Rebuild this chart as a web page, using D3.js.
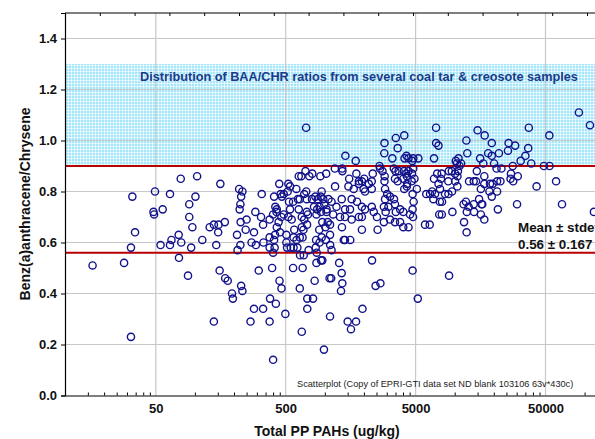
<!DOCTYPE html>
<html>
<head>
<meta charset="utf-8">
<script src="https://cdn.jsdelivr.net/npm/d3@7"></script>
<style>
  body { margin: 0; background: #fff; }
  text { font-family: "Liberation Sans", Arial, sans-serif; }
</style>
</head>
<body>
<svg id="chart"></svg>
<script>
// BaA/Chrysene ratio vs total PP PAHs (log x)

// Total PP PAHs (ug/kg)
const totalPAH = [
  // low concentrations
  16.3, 28.5, 32.2, 34.6, 32.2, 33, 48, 48.5, 49.3, 56.5,
  64.3, 54.4, 64.3, 66, 75, 78.5, 75.4, 77.8, 104, 101,
  90.5, 88.5, 90.5, 95.6, 93.6, 114, 130, 140, 152, 146,
  151, 170, 155, 171, 179, 140, 157,
  // 190 - 1100
  193, 196, 211, 213, 224, 227, 232, 221, 224, 225,
  250, 246, 292, 285, 295, 310, 285, 268, 335, 323,
  335, 376, 376, 400, 393, 379, 376, 420, 448, 464,
  400, 497, 414, 407, 427, 441, 506, 512, 570, 575,
  582, 642, 665, 463, 483, 524, 540, 219, 232, 227,
  327, 407, 446, 524, 630, 337, 273, 376, 411, 400,
  425, 452, 416, 427, 457, 467, 483, 540, 518, 530,
  556, 506, 575, 606, 642, 570, 630, 604, 621, 710,
  760, 801, 720, 726, 695, 642, 665, 694, 665, 685,
  674, 726, 741, 730, 797, 846, 882, 930, 946, 974,
  924, 1024, 826, 872, 912, 991, 1032, 862, 935, 957,
  1010, 1054, 906, 946, 912, 857, 852, 751, 645, 688,
  547, 615, 675, 835, 733, 812, 733, 985, 862, 935,
  957, 1088, 1097,
  // below the mean line and high end
  867, 1018, 1127, 1100, 1097, 1290, 1349, 1364, 1333, 1120,
  1500, 1740, 1590, 1950, 2310, 2460, 2680, 1400, 1430, 1570,
  1355, 1930, 2550, 4740, 5200, 9050, 5910, 6420, 7600, 7960,
  9600, 11800, 12350, 11700, 12800, 14100, 15900, 16900, 16300, 21500,
  30200, 67000, 118000,
  // inside the coal tar band
  718, 1440, 1730, 2880, 2870, 3520, 4090, 3640, 3310, 4110,
  4410, 4720, 5250, 4800, 4260, 7190, 7190, 7500, 6930, 2640,
  10200, 10700, 10400, 11200, 12300, 12500, 15000, 17000, 19300, 15700,
  16600, 18100, 19300, 21900, 20100, 26000, 29200, 25700, 37200, 36800,
  35000, 32200, 38800, 28000, 53500, 48600, 53700, 90400, 110000,
  // 1000 - 60000 main cloud
  660, 1195, 1360, 1365, 1540, 1750, 1930, 1830, 2010, 2180,
  2300, 2340, 2660, 2780, 2890, 3500, 3700, 4070, 4240, 4410,
  4690, 4800, 4020, 4300, 4670, 3640, 7330, 6930, 7830, 7500,
  9000, 9500, 10070, 10900, 10600, 10500, 8930, 10070, 10480, 12900,
  14000, 14600, 14800, 16900, 16900, 18700, 19600, 21200, 22500, 21000,
  22900, 15900, 18500, 21200, 27100, 26900, 28200, 30600, 42700, 60300,
  1200, 6040, 6460, 7680, 12200, 14000, 15400, 16100, 9540, 8950,
  8430, 19300, 12400, 2880, 3400, 3470, 4280, 4900, 4090, 4280,
  5110, 1520, 1670, 1830, 1990, 2040, 2300, 2910, 3020, 3180,
  3410, 3470, 2910, 2850, 3090, 2940, 3520, 3800, 4020, 4740,
  4830, 4740, 4530, 6700, 7060, 6850, 7710, 7930, 7990, 1066,
  1127, 1230, 1350, 1432, 1564, 1610, 1770, 1930, 2040, 2300,
  2380, 2520, 1830, 1030, 1160, 1310, 1430, 1097, 1610, 1930,
  2850, 3180, 3470, 3800, 4020, 4410, 4780
];

// Benz(a)anthracene / Chrysene ratio, same order as totalPAH
const baaChr = [
  0.51, 0.52, 0.58, 0.64, 0.23, 0.78, 0.72, 0.71, 0.80, 0.73,
  0.79, 0.59, 0.59, 0.61, 0.63, 0.60, 0.54, 0.85, 0.86, 0.78,
  0.75, 0.47, 0.70, 0.66, 0.58, 0.61, 0.66, 0.67, 0.67, 0.59,
  0.64, 0.68, 0.49, 0.46, 0.45, 0.29, 0.83,

  0.40, 0.38, 0.63, 0.57, 0.59, 0.43, 0.41, 0.73, 0.75, 0.68,
  0.69, 0.65, 0.72, 0.64, 0.59, 0.49, 0.34, 0.29, 0.34, 0.70,
  0.67, 0.62, 0.58, 0.56, 0.50, 0.38, 0.29, 0.36, 0.45, 0.42,
  0.14, 0.32, 0.63, 0.61, 0.66, 0.68, 0.60, 0.58, 0.50, 0.58,
  0.65, 0.42, 0.25, 0.70, 0.71, 0.70, 0.73, 0.81, 0.80, 0.78,
  0.79, 0.78, 0.83, 0.83, 0.86, 0.60, 0.60, 0.69, 0.58, 0.71,
  0.72, 0.64, 0.74, 0.73, 0.79, 0.78, 0.79, 0.82, 0.80, 0.76,
  0.69, 0.63, 0.62, 0.61, 0.62, 0.76, 0.73, 0.81, 0.77, 0.88,
  0.86, 0.87, 0.80, 0.77, 0.79, 0.77, 0.70, 0.69, 0.66, 0.65,
  0.62, 0.72, 0.71, 0.67, 0.77, 0.78, 0.77, 0.78, 0.80, 0.77,
  0.86, 0.87, 0.74, 0.73, 0.74, 0.75, 0.73, 0.71, 0.72, 0.68,
  0.66, 0.68, 0.65, 0.62, 0.60, 0.61, 0.58, 0.57, 0.55, 0.55,
  0.58, 0.58, 0.50, 0.45, 0.38, 0.38, 0.34, 0.18, 0.52, 0.53,
  0.53, 0.46, 0.31,

  0.56, 0.61, 0.57, 0.59, 0.63, 0.52, 0.48, 0.44, 0.41, 0.46,
  0.29, 0.29, 0.26, 0.34, 0.53, 0.43, 0.44, 0.61, 0.61, 0.61,
  0.66, 0.65, 0.65, 0.49, 0.38, 0.47, 0.67, 0.67, 0.71, 0.71,
  0.72, 0.68, 0.64, 0.75, 0.74, 0.72, 0.71, 0.69, 0.75, 0.73,
  0.75, 0.75, 0.72,

  1.05, 0.94, 0.92, 0.99, 0.95, 1.01, 1.02, 0.97, 0.93, 0.93,
  0.93, 0.92, 0.93, 0.93, 0.94, 1.05, 0.99, 0.98, 0.93, 0.90,
  0.92, 0.93, 0.91, 0.91, 1.00, 0.95, 1.04, 1.02, 0.99, 0.93,
  0.91, 0.95, 0.94, 0.95, 0.91, 0.99, 0.98, 0.96, 1.05, 0.97,
  0.94, 0.92, 0.91, 0.90, 1.02, 0.90, 0.90, 1.11, 1.06,

  0.86, 0.89, 0.89, 0.88, 0.85, 0.87, 0.84, 0.84, 0.85, 0.83,
  0.84, 0.87, 0.89, 0.88, 0.86, 0.88, 0.88, 0.88, 0.87, 0.88,
  0.87, 0.89, 0.85, 0.83, 0.84, 0.84, 0.87, 0.85, 0.85, 0.83,
  0.88, 0.88, 0.87, 0.90, 0.88, 0.86, 0.84, 0.84, 0.82, 0.84,
  0.84, 0.84, 0.88, 0.86, 0.83, 0.83, 0.83, 0.84, 0.84, 0.89,
  0.89, 0.81, 0.80, 0.80, 0.87, 0.85, 0.84, 0.86, 0.82, 0.84,
  0.82, 0.79, 0.79, 0.76, 0.76, 0.75, 0.77, 0.75, 0.80, 0.79,
  0.79, 0.78, 0.72, 0.84, 0.89, 0.85, 0.86, 0.85, 0.81, 0.82,
  0.81, 0.82, 0.81, 0.83, 0.81, 0.80, 0.81, 0.81, 0.79, 0.78,
  0.77, 0.75, 0.77, 0.74, 0.74, 0.72, 0.72, 0.73, 0.72, 0.79,
  0.76, 0.73, 0.71, 0.80, 0.79, 0.77, 0.81, 0.87, 0.76, 0.77,
  0.76, 0.74, 0.77, 0.73, 0.73, 0.77, 0.76, 0.74, 0.73, 0.74,
  0.72, 0.70, 0.70, 0.72, 0.71, 0.70, 0.70, 0.67, 0.69, 0.70,
  0.68, 0.69, 0.68, 0.68, 0.66, 0.66, 0.70
];

const xTickValues = [50, 500, 5000, 50000];
const yTickValues = [0, 0.2, 0.4, 0.6, 0.8, 1.0, 1.2, 1.4];
const coalTarBand = [0.9, 1.3];     // range of coal tar & creosote ratios
const meanRatio = 0.56;
const upperRatio = 0.9;
const statLabels = ["Mean ± stdev", "0.56 ± 0.167"];
const bandLabel = "Distribution of BAA/CHR ratios from several coal tar & creosote samples";
const footnote = "Scatterplot (Copy of EPRI-GTI data set ND blank 103106 63v*430c)";

function drawChart() {
  const width = 595, height = 439;
  const plotLeft = 65, plotTop = 13, plotBottom = 395.5;
  const decade = 129.9;
  const plotRight = plotLeft + decade * Math.log10(20000);

  const svg = d3.select("#chart")
      .attr("width", width)
      .attr("height", height);

  const x = d3.scaleLog().domain([10, 200000]).range([plotLeft, plotRight]);
  const y = d3.scaleLinear().domain([0, 1.5]).range([plotBottom, plotTop]);
  // Statistica draws an unlabeled top axis with evenly spaced ticks
  const xTop = d3.scaleLinear().domain([0, 15]).range([plotLeft, plotLeft + 15 * 34.8]);

  const data = totalPAH.map((v, i) => ({ pah: v, ratio: baaChr[i] }));

  // dotted cyan fill for the band
  const defs = svg.append("defs");
  const pat = defs.append("pattern")
      .attr("id", "dots")
      .attr("width", 3)
      .attr("height", 3)
      .attr("patternUnits", "userSpaceOnUse");
  pat.append("rect").attr("width", 3).attr("height", 3).attr("fill", "#a8e6f9");
  pat.append("rect").attr("x", 2).attr("y", 2).attr("width", 1).attr("height", 1).attr("fill", "#ffffff");
  pat.append("rect").attr("x", 2).attr("y", 0).attr("width", 1).attr("height", 2).attr("fill", "#d6f4fd");
  pat.append("rect").attr("x", 0).attr("y", 2).attr("width", 2).attr("height", 1).attr("fill", "#d6f4fd");

  defs.append("clipPath").attr("id", "plot-clip")
      .append("rect")
      .attr("x", plotLeft).attr("y", plotTop)
      .attr("width", plotRight - plotLeft).attr("height", plotBottom - plotTop);

  const plot = svg.append("g").attr("clip-path", "url(#plot-clip)");

  plot.append("rect")
      .attr("x", plotLeft)
      .attr("y", y(coalTarBand[1]))
      .attr("width", plotRight - plotLeft)
      .attr("height", y(coalTarBand[0]) - y(coalTarBand[1]))
      .attr("fill", "url(#dots)");

  // grid
  plot.append("g")
      .selectAll("line")
      .data(yTickValues.slice(1))
      .join("line")
      .attr("x1", plotLeft).attr("x2", plotRight)
      .attr("y1", d => y(d)).attr("y2", d => y(d))
      .attr("stroke", "#c8c8c8")
      .attr("stroke-width", 1.2);

  plot.append("g")
      .selectAll("line")
      .data(xTickValues)
      .join("line")
      .attr("x1", d => x(d)).attr("x2", d => x(d))
      .attr("y1", plotTop).attr("y2", plotBottom)
      .attr("stroke", "#c8c8c8")
      .attr("stroke-width", 1.2);

  // reference lines
  plot.append("g")
      .selectAll("line")
      .data([upperRatio, meanRatio])
      .join("line")
      .attr("x1", plotLeft).attr("x2", plotRight)
      .attr("y1", d => y(d)).attr("y2", d => y(d))
      .attr("stroke", "#b80000")
      .attr("stroke-width", 2);

  plot.append("text")
      .attr("x", 140)
      .attr("y", 81)
      .attr("fill", "#1b3a8a")
      .style("font-size", "12.7px")
      .style("font-weight", "bold")
      .text(bandLabel);

  // points
  plot.append("g")
      .selectAll("circle")
      .data(data)
      .join("circle")
      .attr("cx", d => x(d.pah))
      .attr("cy", d => y(d.ratio))
      .attr("r", 3.6)
      .attr("fill", "none")
      .attr("stroke", "#12128c")
      .attr("stroke-width", 1.4);

  // mean +- stdev note
  plot.append("g")
      .selectAll("text")
      .data(statLabels)
      .join("text")
      .attr("x", 518)
      .attr("y", (d, i) => 232 + i * 16.5)
      .style("font-size", "13.4px")
      .style("font-weight", "bold")
      .attr("fill", "#111")
      .text(d => d);

  plot.append("text")
      .attr("x", 297)
      .attr("y", 387)
      .style("font-size", "9.2px")
      .attr("fill", "#222")
      .text(footnote);

  // frame
  svg.append("line")
      .attr("x1", plotLeft).attr("x2", plotRight)
      .attr("y1", plotTop).attr("y2", plotTop)
      .attr("stroke", "#000").attr("stroke-width", 1.2);

  // top axis ticks (no labels)
  svg.append("g")
      .attr("transform", `translate(0,${plotTop})`)
      .call(d3.axisBottom(xTop).tickValues(d3.range(1, 16)).tickSize(3).tickFormat(""))
      .call(g => g.select(".domain").remove());

  // bottom axis: minor ticks every 5*10^k step, labels at 5*10^k
  const minorTicks = [];
  [5, 50, 500, 5000, 50000].forEach(b => {
    d3.range(2, 10).forEach(j => { if (b * j >= 10) minorTicks.push(b * j); });
  });

  svg.append("g")
      .attr("transform", `translate(0,${plotBottom})`)
      .call(d3.axisTop(x).tickValues(minorTicks.filter(v => !xTickValues.includes(v))).tickSize(3).tickFormat(""))
      .call(g => g.select(".domain").remove());

  svg.append("g")
      .attr("transform", `translate(0,${plotBottom})`)
      .call(d3.axisBottom(x).tickValues(xTickValues).tickSize(0).tickPadding(8).tickFormat(d3.format("d")))
      .call(g => g.select(".domain").attr("stroke-width", 1.2))
      .call(g => g.selectAll("text")
          .style("font-size", "13px")
          .style("font-weight", "bold")
          .attr("fill", "#111"));

  // left axis
  svg.append("g")
      .attr("transform", `translate(${plotLeft},0)`)
      .call(d3.axisLeft(y).tickValues(yTickValues).tickSize(4).tickPadding(4).tickFormat(d3.format(".1f")))
      .call(g => g.select(".domain").attr("stroke-width", 1.2))
      .call(g => g.selectAll("text")
          .style("font-size", "13px")
          .style("font-weight", "bold")
          .attr("fill", "#111"));

  // axis titles
  svg.append("text")
      .attr("x", 327)
      .attr("y", 436)
      .attr("text-anchor", "middle")
      .style("font-size", "14px")
      .style("font-weight", "bold")
      .attr("fill", "#111")
      .text("Total PP PAHs (ug/kg)");

  svg.append("text")
      .attr("transform", "translate(30,204) rotate(-90)")
      .attr("text-anchor", "middle")
      .style("font-size", "14px")
      .style("font-weight", "bold")
      .attr("fill", "#111")
      .text("Benz(a)anthracene/Chrysene");
}

drawChart();
</script>
</body>
</html>
